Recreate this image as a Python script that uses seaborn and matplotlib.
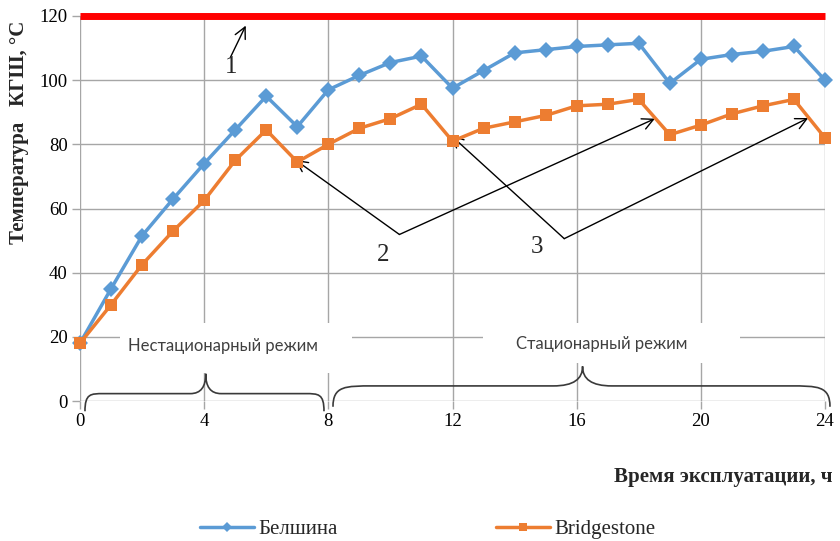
import matplotlib
matplotlib.use("Agg")
import matplotlib.pyplot as plt
from matplotlib.path import Path
from matplotlib.patches import PathPatch, Rectangle
from matplotlib.font_manager import FontProperties
import pandas as pd
import seaborn as sns

# Tyre temperature over a 24-hour run
hours = list(range(25))
belshina = [18, 35, 51.5, 63, 74, 84.5, 95, 85.5, 97, 101.5, 105.5, 107.5, 97.5,
            103, 108.5, 109.5, 110.5, 111, 111.5, 99, 106.5, 108, 109, 110.5, 100]
bridgestone = [18, 30, 42.5, 53, 62.5, 75, 84.5, 74.5, 80, 85, 88, 92.5, 81,
               85, 87, 89, 92, 92.5, 94, 83, 86, 89.5, 92, 94, 82]
series_names = ["Белшина", "Bridgestone"]
limit_temp = 120
x_ticks = [0, 4, 8, 12, 16, 20, 24]
y_ticks = [0, 20, 40, 60, 80, 100, 120]
regime_labels = ["Нестационарный режим", "Стационарный режим"]
x_title = "Время эксплуатации, ч"
y_title = "Температура   КГШ, °С"

sns.set_theme(style="white")
plt.rcParams["font.family"] = ["Liberation Serif", "DejaVu Serif"]

fig = plt.figure(figsize=(8.4, 5.41), dpi=100)
ax = fig.add_axes([80 / 840, 140 / 541, 745 / 840, 385 / 541])

df = pd.DataFrame({"hour": hours, series_names[0]: belshina, series_names[1]: bridgestone})

blue, orange, red = "#5B9BD5", "#ED7D31", "#FF0000"
line_kw = dict(linewidth=2.5, clip_on=False, markeredgewidth=0, zorder=4)
sns.lineplot(data=df, x="hour", y=series_names[0], ax=ax, color=blue, marker="D",
             markersize=8.2, label=series_names[0], **line_kw)
sns.lineplot(data=df, x="hour", y=series_names[1], ax=ax, color=orange, marker="s",
             markersize=8.5, label=series_names[1], **line_kw)

# Temperature limit
ax.hlines(limit_temp, 0, 24, color=red, lw=5, zorder=5, clip_on=False)

ax.set_xlim(0, 24)
ax.set_ylim(0, 120)
ax.set_xticks(x_ticks)
ax.set_yticks(y_ticks)
ax.set_xlabel("")
ax.set_ylabel("")
ax.grid(True, color="#a6a6a6", lw=1)
ax.set_axisbelow(True)
for s in ax.spines.values():
    s.set_visible(False)
ax.tick_params(bottom=True, left=True, length=6, width=1, color="#a6a6a6",
               labelsize=13.5, pad=3, labelcolor="black")

# White boxes behind the regime captions
ax.add_patch(Rectangle((1.29, 8.6), 7.47, 15.6, facecolor="white", edgecolor="none", zorder=1))
ax.add_patch(Rectangle((12.98, 11.7), 8.28, 12.5, facecolor="white", edgecolor="none", zorder=1))
sans = ["Lato", "DejaVu Sans"]
ax.text(4.6, 17.1, regime_labels[0], ha="center", va="center", fontsize=12,
        family=sans, color="#404040", zorder=3)
ax.text(16.8, 17.9, regime_labels[1], ha="center", va="center", fontsize=12,
        family=sans, color="#404040", zorder=3)


def brace(x0, x1, xm, ye, yh, yt, r_end, r_tip):
    verts = [
        (x0, ye),
        (x0, yh), (x0 + 0.3 * r_end, yh), (x0 + r_end, yh),
        (xm - r_tip, yh),
        (xm - 0.3 * r_tip, yh), (xm, yh + 0.35 * (yt - yh)), (xm, yt),
        (xm, yh + 0.35 * (yt - yh)), (xm + 0.3 * r_tip, yh), (xm + r_tip, yh),
        (x1 - r_end, yh),
        (x1 - 0.3 * r_end, yh), (x1, yh), (x1, ye),
    ]
    codes = [Path.MOVETO, Path.CURVE4, Path.CURVE4, Path.CURVE4, Path.LINETO,
             Path.CURVE4, Path.CURVE4, Path.CURVE4,
             Path.CURVE4, Path.CURVE4, Path.CURVE4, Path.LINETO,
             Path.CURVE4, Path.CURVE4, Path.CURVE4]
    ax.add_patch(PathPatch(Path(verts, codes), facecolor="none", edgecolor="#3a3a3a",
                           lw=1.2, clip_on=False, zorder=3))


brace(0.16, 7.86, 4.05, -3.2, 2.3, 8.5, 0.6, 0.5)
brace(8.15, 24.16, 16.19, -1.8, 4.7, 10.8, 1.3, 0.95)

# Callouts
arrow = dict(arrowstyle="->", color="black", lw=1, shrinkA=0, shrinkB=0, mutation_scale=20)
ax.annotate("", xy=(5.34, 117), xytext=(4.85, 107.2), arrowprops=arrow, annotation_clip=False)
ax.text(4.88, 104, "1", ha="center", va="center", fontsize=18)
for head in [(6.93, 75.2), (18.52, 88.0)]:
    ax.annotate("", xy=head, xytext=(10.29, 51.9), arrowprops=arrow)
ax.text(9.76, 45.4, "2", ha="center", va="center", fontsize=18)
for head in [(11.95, 82.8), (23.46, 88.2)]:
    ax.annotate("", xy=head, xytext=(15.6, 50.6), arrowprops=arrow)
ax.text(14.72, 47.9, "3", ha="center", va="center", fontsize=18)

fig.text(833 / 840, (541 - 477) / 541, x_title, ha="right", va="center",
         fontweight="bold", fontsize=15)
fig.text(19 / 840, (541 - 132) / 541, y_title, rotation=90, ha="center", va="center",
         fontweight="bold", fontsize=15)

handles, labels = ax.get_legend_handles_labels()
ax.legend_.remove()
fig.legend(handles, labels, loc="center", bbox_to_anchor=(0.509, 0.021), ncol=2,
           frameon=False, prop=FontProperties(family=["Liberation Serif"], size=15),
           columnspacing=7.6, handlelength=2.6, handletextpad=0.2, markerscale=0.6)

fig.savefig("out.png", dpi=100)
